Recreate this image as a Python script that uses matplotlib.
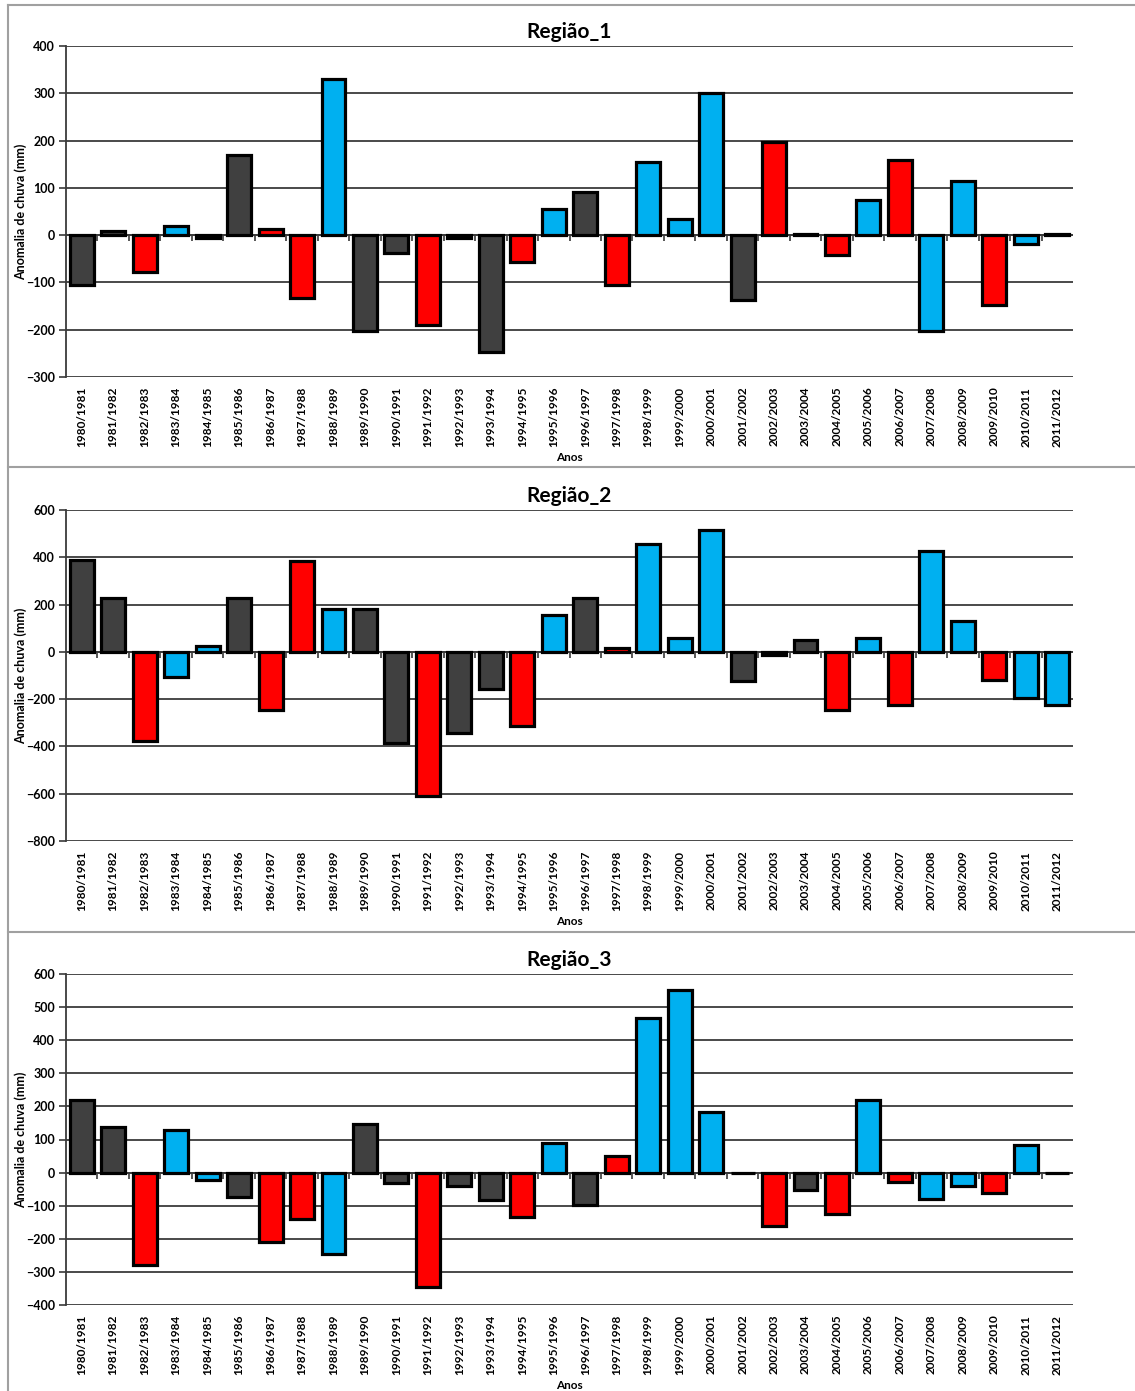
import matplotlib
matplotlib.use("Agg")
import matplotlib.pyplot as plt
from matplotlib.lines import Line2D

plt.rcParams['font.family'] = ['Lato', 'DejaVu Sans']
plt.rcParams['font.weight'] = 'bold'

anos = ['%d/%d' % (a, a + 1) for a in range(1980, 2012)]

# classe do ano: E = El Niño (vermelho), L = La Niña (azul), N = neutro (cinza)
classe = ['N', 'N', 'E', 'L', 'L', 'N', 'E', 'E', 'L', 'N', 'N', 'E', 'N', 'N', 'E', 'L',
          'N', 'E', 'L', 'L', 'L', 'N', 'E', 'N', 'E', 'L', 'E', 'L', 'L', 'E', 'L', 'L']

regiao_1 = [-105, 8, -78, 20, -7, 169, 12, -133, 330, -203, -38, -190, -5, -247, -57, 55,
            91, -105, 154, 34, 300, -137, 197, 3, -42, 74, 158, -203, 114, -148, -19, 2]
regiao_2 = [389, 228, -376, -106, 25, 228, -245, 384, 182, 182, -384, -608, -342, -156, -313, 156,
            228, 15, 456, 59, 515, -122, -15, 51, -245, 59, -224, 427, 131, -118, -194, -224]
regiao_3 = [220, 139, -280, 130, -21, -75, -211, -139, -247, 148, -30, -346, -39, -84, -133, 90,
            -99, 51, 467, 551, 184, -2, -160, -54, -124, 220, -27, -81, -39, -63, 84, -2]

cores = {'N': '#404040', 'E': '#FF0000', 'L': '#00B0F0'}

paineis = [
    ('Região_1', regiao_1, (-300, 400), 100),
    ('Região_2', regiao_2, (-800, 600), 200),
    ('Região_3', regiao_3, (-400, 600), 100),
]

W, H = 1135, 1391
fig = plt.figure(figsize=(W / 100, H / 100), dpi=100)

# posição dos eixos em pixels (topo, base)
limites = [(46, 377), (510, 841), (974, 1305)]
esq, dir_ = 66, 1073

x = list(range(len(anos)))
for (titulo, valores, (ymin, ymax), passo), (topo, base) in zip(paineis, limites):
    ax = fig.add_axes([esq / W, 1 - base / H, (dir_ - esq) / W, (base - topo) / H])
    ax.bar(x, valores, width=0.76, color=[cores[c] for c in classe],
           edgecolor='black', linewidth=2.3, zorder=3)
    ax.set_xlim(-0.5, len(anos) - 0.5)
    ax.set_ylim(ymin, ymax)
    ax.set_yticks(range(ymin, ymax + 1, passo))
    ax.yaxis.grid(True, color='#3a3a3a', linewidth=1.3)
    ax.set_axisbelow(True)
    for s in ['top', 'right', 'bottom']:
        ax.spines[s].set_visible(False)
    ax.spines['left'].set_color('#3a3a3a')
    ax.spines['left'].set_linewidth(1.3)
    ax.tick_params(axis='y', direction='out', length=5, width=1.2, color='#3a3a3a',
                   labelsize=9, pad=3)
    ax.set_xticks(x)
    ax.set_xticklabels(anos, rotation=90, fontsize=8.5, fontweight='bold')
    ax.tick_params(axis='x', length=0, pad=7)
    for lab in ax.get_yticklabels():
        lab.set_fontweight('bold')

    # eixo das categorias cruzando no zero
    zero = (0 - ymin) / (ymax - ymin)
    ax.axhline(0, color='#3a3a3a', linewidth=1.3, zorder=2)
    sec = ax.secondary_xaxis(zero)
    sec.set_xticks([i + 0.5 for i in x[:-1]])
    sec.tick_params(direction='out', length=4, width=1.2, color='#3a3a3a', labelbottom=False,
                    labeltop=False, bottom=True, top=False)
    sec.spines['bottom'].set_visible(False)
    sec.spines['top'].set_visible(False)
    sec.xaxis.set_ticks_position('bottom')
    sec.set_xticklabels([])

    ax.set_title(titulo, fontsize=15, fontweight='bold', pad=6)
    ax.set_ylabel('Anomalia de chuva (mm)', fontsize=9, fontweight='bold')
    ax.yaxis.set_label_coords(-0.039, 0.5)
    ax.set_xlabel('Anos', fontsize=8.5, fontweight='bold')
    ax.xaxis.set_label_coords(0.5, -(452 - 377) / 331)

# molduras dos gráficos
moldura = '#A0A0A0'
for yp in [5, 467, 932]:
    fig.add_artist(Line2D([8 / W, 1], [1 - yp / H, 1 - yp / H], color=moldura, linewidth=1.5))
fig.add_artist(Line2D([8 / W, 8 / W], [1 - 5 / H, 0], color=moldura, linewidth=1.5))

fig.savefig('out.png', dpi=100, facecolor='white')
